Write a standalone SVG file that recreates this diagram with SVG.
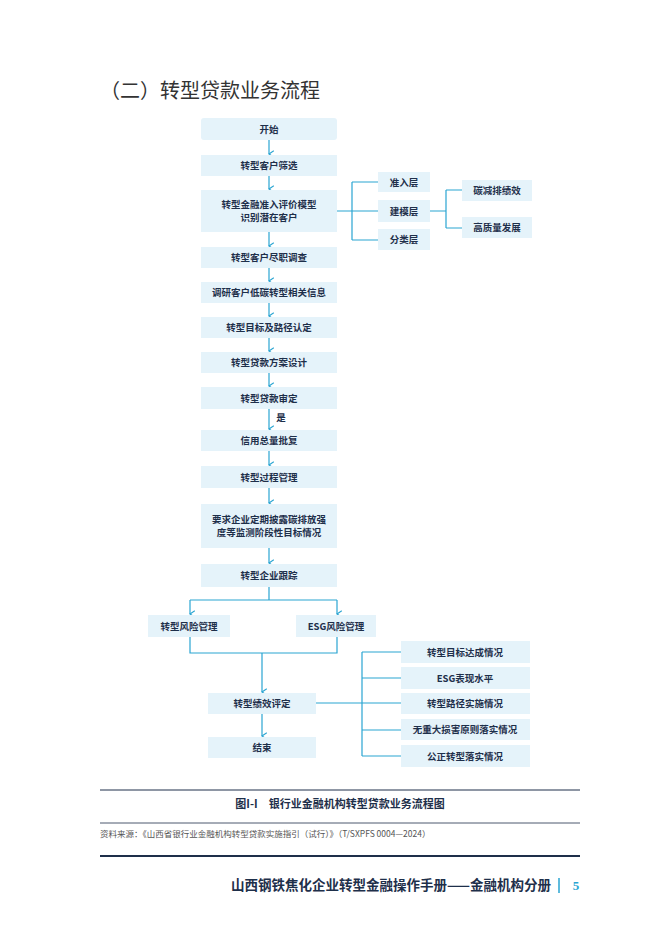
<svg xmlns="http://www.w3.org/2000/svg" width="662" height="936" viewBox="0 0 662 936">
<defs>
<style>
.b{fill:#e5f3fa}
.t{font-family:"Noto Sans CJK SC","Noto Sans",sans-serif;font-size:9.5px;font-weight:bold;fill:#1e2f4a;text-anchor:middle}
.c{stroke:#2aa5d2;stroke-width:1.2;fill:none}
</style>
<marker id="a" viewBox="0 0 10 10" refX="5" refY="9" markerWidth="8" markerHeight="8" orient="auto-start-reverse" markerUnits="userSpaceOnUse"><path d="M1,3 L5,9 L9,3" fill="none" stroke="#2aa5d2" stroke-width="1.4"/></marker>
</defs>
<rect width="662" height="936" fill="#fff"/>
<text x="100" y="98" font-family="Noto Sans CJK SC,sans-serif" font-size="20" fill="#333">（二）转型贷款业务流程</text>
<g id="connectors" class="c">
<path d="M269,140V154" marker-end="url(#a)"/>
<path d="M269,176V189" marker-end="url(#a)"/>
<path d="M269,232V246" marker-end="url(#a)"/>
<path d="M269,268V281" marker-end="url(#a)"/>
<path d="M269,303V316" marker-end="url(#a)"/>
<path d="M269,338V351" marker-end="url(#a)"/>
<path d="M269,373V386" marker-end="url(#a)"/>
<path d="M269,409V429" marker-end="url(#a)"/>
<path d="M269,451V465" marker-end="url(#a)"/>
<path d="M269,488V503" marker-end="url(#a)"/>
<path d="M269,548V563" marker-end="url(#a)"/>
<path d="M269,587V600M190,600H337"/>
<path d="M190,600V614" marker-end="url(#a)"/>
<path d="M337,600V614" marker-end="url(#a)"/>
<path d="M190,637V653H337V637M262,653V692" marker-end="url(#a)"/>
<path d="M262,714V736" marker-end="url(#a)"/>
<path d="M337,211H378M352,182V240M352,182H378M352,240H378"/>
<path d="M430,211H446M446,190V228M446,190H462M446,228H462"/>
<path d="M316,703H401M362,652V756M362,652H401M362,678H401M362,730H401M362,756H401"/>
</g>
<g id="n1"><rect class="b" x="201" y="118" width="136" height="22" rx="3"/><text class="t" x="269" y="132.5">开始</text></g>
<g id="n2"><rect class="b" x="201" y="155" width="136" height="21"/><text class="t" x="269" y="169">转型客户筛选</text></g>
<g id="n3"><rect class="b" x="201" y="190" width="136" height="42"/><text class="t" x="269" y="208">转型金融准入评价模型</text><text class="t" x="269" y="221">识别潜在客户</text></g>
<g id="n4"><rect class="b" x="201" y="247" width="136" height="21"/><text class="t" x="269" y="261">转型客户尽职调查</text></g>
<g id="n5"><rect class="b" x="201" y="282" width="136" height="21"/><text class="t" x="269" y="296">调研客户低碳转型相关信息</text></g>
<g id="n6"><rect class="b" x="201" y="317" width="136" height="21"/><text class="t" x="269" y="331">转型目标及路径认定</text></g>
<g id="n7"><rect class="b" x="201" y="352" width="136" height="21"/><text class="t" x="269" y="366">转型贷款方案设计</text></g>
<g id="n8"><rect class="b" x="201" y="387" width="136" height="22"/><text class="t" x="269" y="401.5">转型贷款审定</text></g>
<text class="t" x="281" y="421">是</text>
<g id="n9"><rect class="b" x="201" y="430" width="136" height="21"/><text class="t" x="269" y="444">信用总量批复</text></g>
<g id="n10"><rect class="b" x="201" y="466" width="136" height="22"/><text class="t" x="269" y="480.5">转型过程管理</text></g>
<g id="n11"><rect class="b" x="201" y="504" width="136" height="44"/><text class="t" x="269" y="523">要求企业定期披露碳排放强</text><text class="t" x="269" y="536">度等监测阶段性目标情况</text></g>
<g id="n12"><rect class="b" x="201" y="564" width="136" height="23"/><text class="t" x="269" y="579">转型企业跟踪</text></g>
<g id="n13"><rect class="b" x="148" y="615" width="82" height="22"/><text class="t" x="189" y="629.5">转型风险管理</text></g>
<g id="n14"><rect class="b" x="296" y="615" width="80" height="22"/><text class="t" x="336" y="629.5">ESG风险管理</text></g>
<g id="n15"><rect class="b" x="208" y="693" width="108" height="21"/><text class="t" x="262" y="707">转型绩效评定</text></g>
<g id="n16"><rect class="b" x="208" y="737" width="108" height="21"/><text class="t" x="262" y="751">结束</text></g>
<g id="l1"><rect class="b" x="378" y="172" width="52" height="20"/><text class="t" x="404" y="185.5">准入层</text></g>
<g id="l2"><rect class="b" x="378" y="200" width="52" height="22"/><text class="t" x="404" y="214.5">建模层</text></g>
<g id="l3"><rect class="b" x="378" y="229" width="52" height="21"/><text class="t" x="404" y="243">分类层</text></g>
<g id="m1"><rect class="b" x="462" y="180" width="70" height="21"/><text class="t" x="497" y="194">碳减排绩效</text></g>
<g id="m2"><rect class="b" x="462" y="217" width="70" height="21"/><text class="t" x="497" y="231">高质量发展</text></g>
<g id="r1"><rect class="b" x="401" y="641" width="129" height="22"/><text class="t" x="465" y="655.5">转型目标达成情况</text></g>
<g id="r2"><rect class="b" x="401" y="667" width="129" height="22"/><text class="t" x="465" y="681.5">ESG表现水平</text></g>
<g id="r3"><rect class="b" x="401" y="693" width="129" height="21"/><text class="t" x="465" y="707">转型路径实施情况</text></g>
<g id="r4"><rect class="b" x="401" y="719" width="129" height="21"/><text class="t" x="465" y="733">无重大损害原则落实情况</text></g>
<g id="r5"><rect class="b" x="401" y="745" width="129" height="22"/><text class="t" x="465" y="759.5">公正转型落实情况</text></g>
<line x1="100" y1="790" x2="580" y2="790" stroke="#1e2f4a" stroke-width="1"/>
<text x="340" y="808" text-anchor="middle" font-family="Noto Sans CJK SC,sans-serif" font-size="11" font-weight="bold" fill="#1e2f4a">图I-I　银行业金融机构转型贷款业务流程图</text>
<line x1="100" y1="823" x2="580" y2="823" stroke="#1e2f4a" stroke-width="0.8"/>
<text x="100" y="837" font-family="Noto Sans CJK SC,sans-serif" font-size="8.5" fill="#555">资料来源：《山西省银行业金融机构转型贷款实施指引（试行）》（T/SXPFS 0004—2024）</text>
<line x1="100" y1="856" x2="580" y2="856" stroke="#1e2f4a" stroke-width="2.2"/>
<text x="551" y="890" text-anchor="end" font-family="Noto Sans CJK SC,sans-serif" font-size="13.5" font-weight="bold" fill="#1e2f4a">山西钢铁焦化企业转型金融操作手册——金融机构分册</text>
<line x1="559" y1="878" x2="559" y2="893" stroke="#2aa5d2" stroke-width="1.5"/>
<text x="576" y="890" text-anchor="middle" font-family="Liberation Serif,serif" font-size="13" font-weight="bold" fill="#2aa5d2">5</text>
</svg>
